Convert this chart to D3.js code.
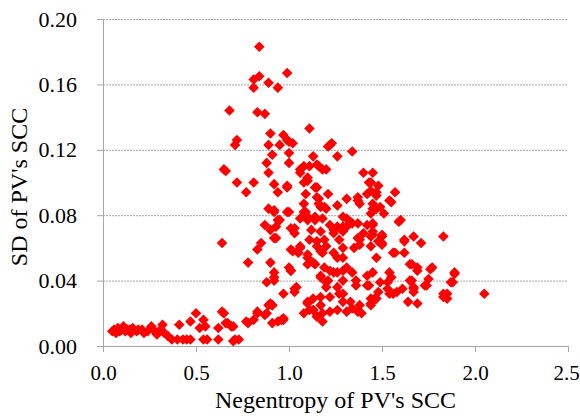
<!DOCTYPE html>
<html>
<head>
<meta charset="utf-8">
<script src="https://cdn.jsdelivr.net/npm/d3@7"></script>
<style>
  body { margin: 0; background: #fff; }
  .axis path, .axis line { stroke: #a6a6a6; }
  .grid line { stroke: #a6a6a6; stroke-dasharray: 2,1; }
  .grid path { display: none; }
</style>
</head>
<body>
<svg width="580" height="416"></svg>
<script>
// tick values
const xTicks = [0, 0.5, 1.0, 1.5, 2.0, 2.5];
const yTicks = [0, 0.04, 0.08, 0.12, 0.16, 0.20];

// [negentropy, SD] pairs
const lowTail = [
  [0.05,0.009],[0.06,0.010],[0.07,0.008],[0.08,0.011],[0.09,0.009],[0.10,0.010],[0.11,0.012],[0.12,0.009],
  [0.13,0.010],[0.145,0.010],[0.15,0.008],[0.16,0.011],[0.18,0.009],[0.19,0.010],[0.21,0.010],[0.22,0.008],
  [0.24,0.009],[0.26,0.012],[0.27,0.010],[0.29,0.007],[0.30,0.009],[0.32,0.013],[0.33,0.008],[0.35,0.006],
  [0.37,0.004],[0.40,0.004],[0.43,0.004],[0.45,0.004],[0.47,0.004],[0.41,0.013],[0.47,0.015],[0.50,0.020],
  [0.52,0.011],[0.54,0.016],[0.55,0.012],[0.54,0.004],[0.56,0.004],[0.62,0.004],[0.70,0.003],[0.73,0.004],
  [0.62,0.011],[0.64,0.021],[0.65,0.020],[0.66,0.014],[0.67,0.014],[0.69,0.012],[0.70,0.012],[0.71,0.004],
  [0.77,0.015],[0.78,0.014]
];
const risingPart = [
  [0.81,0.016],[0.83,0.020],[0.83,0.021],[0.87,0.019],[0.88,0.020],[0.89,0.025],[0.90,0.026],[0.91,0.014],
  [0.91,0.025],[0.94,0.015],[0.96,0.016],[0.97,0.016],[0.97,0.017],[0.97,0.032],[0.88,0.039],[0.92,0.040],
  [0.92,0.042],[0.92,0.045],[1.03,0.033],[1.03,0.035],[1.04,0.036],[1.01,0.046],[1.10,0.026],[1.13,0.022],
  [1.08,0.020],[1.15,0.018],[0.90,0.051],[0.78,0.051],[0.83,0.059],[0.85,0.063],[0.64,0.063]
];
const upperSpread = [
  [0.84,0.183],[0.81,0.163],[0.84,0.165],[0.81,0.158],[0.89,0.161],[0.94,0.158],[0.99,0.167],[0.68,0.144],
  [0.83,0.143],[0.87,0.142],[1.11,0.133],[0.72,0.126],[0.71,0.123],[0.90,0.130],[0.89,0.123],[0.97,0.129],
  [0.99,0.126],[0.95,0.123],[1.02,0.124],[1.00,0.125],[1.22,0.123],[1.21,0.122],[1.23,0.124],[0.91,0.117],
  [1.00,0.118],[1.13,0.116],[1.26,0.116],[1.34,0.119],[0.65,0.108],[0.66,0.107],[0.88,0.112],[0.89,0.106],
  [1.00,0.112],[1.06,0.106],[1.06,0.108],[1.11,0.110],[1.15,0.111],[1.08,0.110],[1.16,0.110],[1.20,0.108],
  [1.18,0.108],[1.08,0.100],[1.10,0.103],[1.40,0.106],[1.45,0.106],[0.72,0.100],[0.81,0.100],[1.44,0.100],
  [1.43,0.100],[1.10,0.101]
];
const coreCluster = [
  [0.77,0.094],[0.92,0.099],[0.94,0.094],[0.99,0.097],[0.99,0.098],[1.09,0.093],[1.14,0.097],[1.15,0.097],
  [1.15,0.091],[1.21,0.093],[1.16,0.087],[1.16,0.090],[1.26,0.086],[1.20,0.084],[1.31,0.090],[1.37,0.089],
  [1.37,0.091],[1.38,0.087],[1.42,0.093],[1.47,0.094],[1.48,0.098],[1.44,0.095],[1.47,0.092],[1.57,0.094],
  [1.54,0.089],[1.55,0.088],[1.08,0.087],[1.09,0.082],[0.89,0.084],[0.92,0.082],[0.92,0.083],[1.00,0.082],
  [0.99,0.082],[1.08,0.082],[1.19,0.085],[1.17,0.085],[1.45,0.084],[1.49,0.085],[1.47,0.084],[1.51,0.081],
  [1.44,0.081],[1.45,0.087],[0.95,0.077],[0.94,0.077],[1.06,0.078],[1.10,0.077],[1.10,0.079],[1.14,0.077],
  [1.14,0.079],[1.18,0.078],[1.29,0.079],[1.31,0.078],[1.33,0.076],[1.34,0.075],[1.37,0.075],[1.45,0.075],
  [1.45,0.074],[1.42,0.074],[1.59,0.076],[1.60,0.077],[0.87,0.074],[0.90,0.071],[0.93,0.073],[1.01,0.072],
  [1.03,0.072],[1.03,0.069],[1.12,0.071],[1.17,0.070],[1.22,0.074],[1.24,0.071],[1.24,0.069],[1.26,0.073],
  [1.29,0.073],[1.29,0.070],[1.31,0.073],[1.40,0.069],[1.45,0.070],[1.44,0.067],[1.45,0.068],[1.50,0.068],
  [1.50,0.067],[0.93,0.066],[0.92,0.066],[1.27,0.065],[1.37,0.066],[1.38,0.065],[1.62,0.065],[1.67,0.067],
  [1.71,0.063],[1.83,0.067],[1.62,0.064],[1.11,0.065],[1.15,0.064],[1.19,0.065],[1.38,0.062],[1.44,0.061],
  [1.48,0.064],[1.50,0.063],[1.50,0.062],[1.15,0.061],[1.06,0.061],[1.06,0.060],[1.20,0.061],[1.29,0.060],
  [1.35,0.060],[1.01,0.059],[1.02,0.058],[1.05,0.057],[1.17,0.058],[1.18,0.057],[1.24,0.057],[1.56,0.057],
  [1.57,0.057],[1.62,0.057],[1.10,0.056],[1.10,0.054],[1.13,0.051],[1.26,0.054],[1.29,0.054],[1.47,0.054],
  [1.10,0.050],[1.14,0.050],[1.19,0.048],[1.31,0.048],[1.00,0.048],[1.65,0.050],[1.66,0.050],[1.69,0.048],
  [1.69,0.046],[1.76,0.047],[1.77,0.048],[1.89,0.045],[1.89,0.044],[1.22,0.046],[1.29,0.046],[1.45,0.045],
  [1.54,0.045],[1.24,0.045],[1.26,0.045],[1.34,0.045],[1.01,0.046],[1.17,0.043],[1.42,0.043],[1.17,0.042],
  [1.29,0.040],[1.21,0.040],[1.36,0.040],[1.55,0.042],[1.49,0.039],[1.53,0.039],[1.65,0.040],[1.66,0.040],
  [1.75,0.041],[1.87,0.039],[1.88,0.039],[1.20,0.039]
];
const lowerBand = [
  [1.43,0.037],[1.36,0.037],[1.42,0.037],[1.26,0.036],[1.20,0.036],[1.48,0.033],[1.58,0.033],[1.53,0.035],
  [1.56,0.032],[1.61,0.035],[1.67,0.035],[1.67,0.036],[1.73,0.037],[1.74,0.037],[1.83,0.032],[1.85,0.032],
  [1.83,0.030],[1.85,0.029],[2.05,0.032],[1.27,0.032],[1.29,0.032],[1.17,0.030],[1.22,0.030],[1.46,0.029],
  [1.47,0.029],[1.44,0.029],[1.44,0.025],[1.44,0.026],[1.64,0.027],[1.69,0.026],[1.67,0.033],[1.54,0.032],
  [1.33,0.027],[1.29,0.027],[1.38,0.025],[1.10,0.027],[1.13,0.029],[1.17,0.025],[1.11,0.022],[1.13,0.022],
  [1.18,0.020],[1.18,0.015],[1.22,0.021],[1.26,0.022],[1.31,0.021],[1.34,0.023],[1.37,0.021],[1.39,0.020],
  [0.91,0.025],[1.15,0.018]
];

const points = [].concat(lowTail, risingPart, upperSpread, coreCluster, lowerBand);

const serif = '"Liberation Serif", "Times New Roman", Times, serif';
const svg = d3.select("svg");
const margin = {left: 103, right: 568, top: 19, bottom: 346};

const x = d3.scaleLinear().domain([0, 2.5]).range([margin.left, margin.right]);
const y = d3.scaleLinear().domain([0, 0.2]).range([margin.bottom, margin.top]);

// dotted horizontal gridlines
svg.append("g").attr("class", "grid")
  .attr("transform", "translate(" + margin.left + ",0)")
  .call(d3.axisLeft(y).tickValues(yTicks.filter(v => v > 0)).tickSize(-(margin.right - margin.left)).tickFormat(""));

// axes
const xAxis = svg.append("g").attr("class", "axis")
  .attr("transform", "translate(0," + margin.bottom + ")")
  .call(d3.axisBottom(x).tickValues(xTicks).tickSizeOuter(0).tickSize(6).tickPadding(13).tickFormat(d3.format(".1f")));
xAxis.attr("font-family", serif);
xAxis.selectAll("text").style("font-family", serif).style("font-size", "21px").attr("fill", "#000")
  .attr("dx", d => d == 2.5 ? -2 : 0);

const yAxis = svg.append("g").attr("class", "axis")
  .attr("transform", "translate(" + margin.left + ",0)")
  .call(d3.axisLeft(y).tickValues(yTicks).tickSizeOuter(0).tickSize(6).tickPadding(20).tickFormat(d3.format(".2f")));
yAxis.attr("font-family", serif);
yAxis.selectAll("text").style("font-family", serif).style("font-size", "22px").attr("fill", "#000");

// markers: red diamonds
const r = 5.3;
svg.append("g").selectAll("path").data(points).enter().append("path")
  .attr("d", "M0," + (-r) + "L" + r + ",0L0," + r + "L" + (-r) + ",0Z")
  .attr("transform", d => "translate(" + x(d[0]) + "," + y(d[1]) + ")")
  .attr("fill", "#ff0000");

// axis titles
svg.append("text")
  .attr("text-anchor", "middle")
  .attr("x", (margin.left + margin.right) / 2).attr("y", 408)
  .style("font-family", serif).style("font-size", "24px")
  .text("Negentropy of PV's SCC");

svg.append("text")
  .attr("text-anchor", "middle")
  .attr("transform", "translate(27,187)rotate(-90)")
  .style("font-family", serif).style("font-size", "24px")
  .text("SD of PV's SCC");
</script>
</body>
</html>
